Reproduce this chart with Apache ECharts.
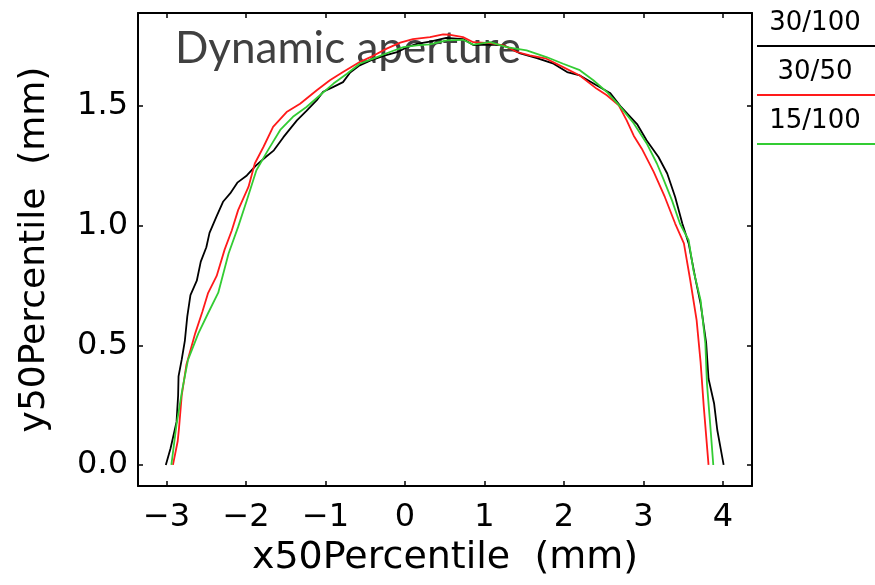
<!DOCTYPE html>
<html>
<head>
<meta charset="utf-8">
<script src="https://cdn.jsdelivr.net/npm/echarts@6/dist/echarts.min.js"></script>
<style>
  html, body { margin: 0; padding: 0; background: #fff; }
  #chart { width: 875px; height: 585px; }
</style>
</head>
<body>
<div id="chart"></div>
<script>
// Dynamic aperture boundaries (x50Percentile, y50Percentile), in mm
const seriesNames = ['30/100', '30/50', '15/100'];
const seriesColors = ['#000000', '#ff1a1a', '#33cc33'];

const aperture30x100 = [
  [-3.01, 0], [-2.95, 0.07], [-2.875, 0.18], [-2.855, 0.29], [-2.85, 0.37], [-2.81, 0.44],
  [-2.77, 0.52], [-2.74, 0.62], [-2.70, 0.71], [-2.62, 0.77], [-2.57, 0.85], [-2.50, 0.91],
  [-2.46, 0.97], [-2.37, 1.04], [-2.29, 1.10], [-2.20, 1.135], [-2.11, 1.18], [-1.99, 1.21],
  [-1.88, 1.25], [-1.76, 1.285], [-1.65, 1.315], [-1.53, 1.37], [-1.36, 1.44], [-1.24, 1.48],
  [-1.11, 1.525], [-1.03, 1.56], [-0.90, 1.58], [-0.78, 1.60], [-0.69, 1.64], [-0.57, 1.67],
  [-0.44, 1.69], [-0.27, 1.71], [-0.10, 1.725], [0.02, 1.745], [0.15, 1.76], [0.33, 1.77],
  [0.52, 1.785], [0.73, 1.78], [0.86, 1.755], [1.07, 1.757], [1.24, 1.754], [1.45, 1.72],
  [1.66, 1.70], [1.87, 1.677], [2.04, 1.642], [2.20, 1.628], [2.41, 1.587], [2.58, 1.555],
  [2.71, 1.50], [2.92, 1.425], [3.04, 1.357], [3.19, 1.287], [3.30, 1.218], [3.40, 1.12],
  [3.49, 1.009], [3.57, 0.926], [3.65, 0.786], [3.72, 0.675], [3.79, 0.51], [3.82, 0.36],
  [3.89, 0.257], [3.93, 0.146], [4.01, 0]
];

const aperture30x50 = [
  [-2.92, 0], [-2.86, 0.10], [-2.845, 0.15], [-2.81, 0.29], [-2.75, 0.42], [-2.64, 0.55],
  [-2.55, 0.64], [-2.48, 0.717], [-2.37, 0.79], [-2.27, 0.90], [-2.18, 0.98], [-2.10, 1.065],
  [-1.97, 1.162], [-1.89, 1.26], [-1.78, 1.33], [-1.66, 1.413], [-1.49, 1.475], [-1.32, 1.51],
  [-1.11, 1.566], [-0.945, 1.608], [-0.78, 1.642], [-0.57, 1.684], [-0.40, 1.71], [-0.23, 1.74],
  [-0.06, 1.765], [0.10, 1.78], [0.315, 1.788], [0.48, 1.80], [0.57, 1.798], [0.73, 1.788],
  [0.86, 1.767], [1.07, 1.763], [1.24, 1.754], [1.41, 1.726], [1.57, 1.712], [1.78, 1.698],
  [1.99, 1.663], [2.20, 1.628], [2.41, 1.573], [2.54, 1.545], [2.69, 1.503], [2.79, 1.44],
  [2.88, 1.375], [2.98, 1.322], [3.13, 1.225], [3.27, 1.12], [3.40, 1.009], [3.51, 0.926],
  [3.59, 0.772], [3.67, 0.605], [3.72, 0.43], [3.76, 0.244], [3.82, 0]
];

const aperture15x100 = [
  [-2.94, 0], [-2.875, 0.17], [-2.80, 0.32], [-2.73, 0.44], [-2.60, 0.55], [-2.48, 0.633],
  [-2.35, 0.72], [-2.22, 0.884], [-2.10, 0.995], [-1.99, 1.106], [-1.87, 1.232], [-1.72, 1.318],
  [-1.57, 1.40], [-1.41, 1.455], [-1.24, 1.496], [-1.07, 1.545], [-0.90, 1.594], [-0.73, 1.635],
  [-0.57, 1.677], [-0.40, 1.698], [-0.19, 1.726], [-0.02, 1.746], [0.15, 1.754], [0.315, 1.758],
  [0.525, 1.775], [0.73, 1.777], [0.86, 1.757], [1.07, 1.767], [1.28, 1.746], [1.53, 1.733],
  [1.78, 1.705], [1.99, 1.677], [2.20, 1.65], [2.37, 1.608], [2.54, 1.559], [2.69, 1.505],
  [2.88, 1.427], [3.04, 1.345], [3.17, 1.26], [3.25, 1.197], [3.36, 1.106], [3.46, 1.009],
  [3.57, 0.939], [3.63, 0.814], [3.72, 0.689], [3.78, 0.508], [3.80, 0.341], [3.84, 0.174],
  [3.88, 0]
];

const xTicks = [-3, -2, -1, 0, 1, 2, 3, 4];
const yTicks = [0, 0.5, 1.0, 1.5];
const xRange = [-3.36, 4.367];
const yRange = [-0.088, 1.889];

const axisFont = '"DejaVu Sans", "Liberation Sans", sans-serif';
const frame = { show: true, onZero: false, lineStyle: { color: '#000', width: 2 } };
const tickStyle = { inside: true, length: 5, lineStyle: { color: '#000', width: 1.5 } };

const chart = echarts.init(document.getElementById('chart'), null, { renderer: 'canvas' });

const allSeries = [aperture30x100, aperture30x50, aperture15x100].map((pts, i) => ({
  name: seriesNames[i],
  type: 'line',
  data: pts,
  showSymbol: false,
  symbol: 'none',
  z: 3,
  lineStyle: { color: seriesColors[i], width: 1.8 },
  xAxisIndex: 0,
  yAxisIndex: 0
}));

// legend: label above a short coloured rule, stacked at the right edge
const legendItems = [];
const legendTextY = [23, 72, 121];
const legendRuleY = [46, 95, 144];
seriesNames.forEach((n, i) => {
  legendItems.push({
    type: 'text', x: 815, y: legendTextY[i],
    style: { text: n, font: '26px ' + axisFont, fill: '#000', align: 'center', verticalAlign: 'middle' }
  });
  legendItems.push({
    type: 'line', shape: { x1: 757, y1: legendRuleY[i], x2: 875, y2: legendRuleY[i] },
    style: { stroke: seriesColors[i], lineWidth: 2 }
  });
});

chart.setOption({
  animation: false,
  backgroundColor: '#fff',
  grid: { left: 138, top: 13, width: 614, height: 473, containLabel: false },
  xAxis: [
    {
      type: 'value', position: 'bottom', min: xRange[0], max: xRange[1],
      axisLine: frame, splitLine: { show: false },
      axisTick: Object.assign({ customValues: xTicks }, tickStyle),
      axisLabel: {
        customValues: xTicks, margin: 16, color: '#000', fontSize: 32, fontFamily: axisFont,
        formatter: v => String(v).replace('-', '\u2212')
      },
      name: 'x50Percentile  (mm)', nameLocation: 'middle', nameGap: 49,
      nameTextStyle: { color: '#000', fontSize: 38, fontFamily: axisFont }
    },
    {
      type: 'value', position: 'top', min: xRange[0], max: xRange[1],
      axisLine: frame, splitLine: { show: false },
      axisTick: Object.assign({ customValues: xTicks }, tickStyle),
      axisLabel: { show: false }
    }
  ],
  yAxis: [
    {
      type: 'value', position: 'left', min: yRange[0], max: yRange[1],
      axisLine: frame, splitLine: { show: false },
      axisTick: Object.assign({ customValues: yTicks }, tickStyle),
      axisLabel: {
        customValues: yTicks, margin: 10, color: '#000', fontSize: 32, fontFamily: axisFont,
        verticalAlign: 'middle', padding: [0, 0, 12, 0],
        formatter: v => v.toFixed(1)
      },
      name: 'y50Percentile  (mm)', nameLocation: 'middle', nameGap: 85,
      nameTextStyle: { color: '#000', fontSize: 36, fontFamily: axisFont }
    },
    {
      type: 'value', position: 'right', min: yRange[0], max: yRange[1],
      axisLine: frame, splitLine: { show: false },
      axisTick: Object.assign({ customValues: yTicks }, tickStyle),
      axisLabel: { show: false }
    }
  ],
  series: allSeries,
  graphic: [
    {
      type: 'text', x: 175, y: 49, z: 1,
      style: {
        text: 'Dynamic aperture', font: '44px Lato, "Open Sans", sans-serif',
        fill: '#404040', align: 'left', verticalAlign: 'middle'
      }
    }
  ].concat(legendItems)
});
</script>
</body>
</html>
